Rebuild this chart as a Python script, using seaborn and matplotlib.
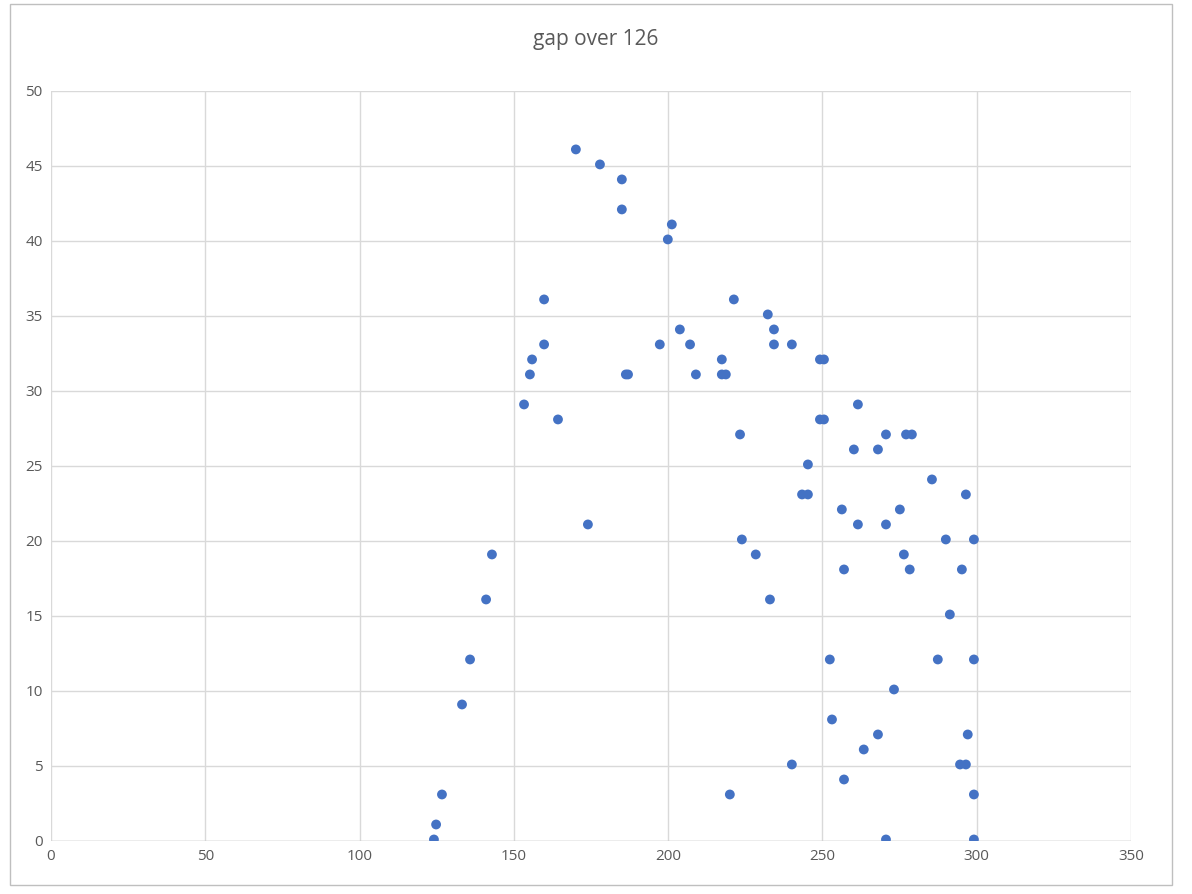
import matplotlib
matplotlib.use("Agg")
import matplotlib.pyplot as plt
import seaborn as sns
import pandas as pd

x_vals = [124.1,124.8,126.7,133.2,135.8,141,142.9,153.3,155.2,155.9,159.8,159.8,164.3,170.1,174,177.9,185,185,186.3,187,
          197.3,199.9,201.2,203.8,207.1,209,217.4,217.4,218.7,220,221.3,223.3,223.9,228.4,232.3,233,234.3,234.3,240.1,240.1,
          243.4,245.3,245.3,249.2,250.5,249.2,250.5,252.4,253.1,256.3,257,257,260.2,261.5,261.5,263.4,268,268,270.6,270.6,
          270.6,273.2,275.1,276.4,277.1,278.3,279,285.5,287.4,290,291.3,294.6,295.2,296.5,296.5,297.1,299.1,299.1,299.1,299.1]
y_vals = [0,1,3,9,12,16,19,29,31,32,33,36,28,46,21,45,44,42,31,31,
          33,40,41,34,33,31,32,31,31,3,36,27,20,19,35,16,34,33,33,5,
          23,25,23,32,32,28,28,12,8,22,18,4,26,29,21,6,26,7,27,21,
          0,10,22,19,27,18,27,24,12,20,15,5,18,23,5,7,20,12,3,0]
y_vals = [v + 0.1 for v in y_vals]
df = pd.DataFrame({"x": x_vals, "y": y_vals})

sns.set_theme(style="white")
plt.rcParams['font.family'] = ['Open Sans', 'DejaVu Sans']
fig = plt.figure(figsize=(11.92, 8.94), dpi=100)
ax = fig.add_axes([0.0428, 0.0593, 0.906, 0.839])
sns.scatterplot(data=df, x="x", y="y", ax=ax, color="#4472C4", s=50, edgecolor="none", zorder=3)
ax.set_xlim(0, 350); ax.set_ylim(0, 50)
ax.set_xticks(range(0, 351, 50)); ax.set_yticks(range(0, 51, 5))
ax.grid(True, color="#D9D9D9", linewidth=1)
for s in ax.spines.values():
    s.set_visible(False)
ax.axhline(0, color="#BFBFBF", linewidth=1, zorder=2)
ax.tick_params(colors="#595959", labelsize=11, length=0, pad=6)
ax.set_xlabel(""); ax.set_ylabel("")
fig.text(0.5, 1 - 40/894, "gap over 126", ha="center", va="center", fontsize=15, color="#595959")
fig.patches.append(plt.Rectangle((0.008, 0.01), 0.975, 0.985, transform=fig.transFigure, fill=False, edgecolor="#BFBFBF", linewidth=1))
fig.savefig("out.png", dpi=100)
